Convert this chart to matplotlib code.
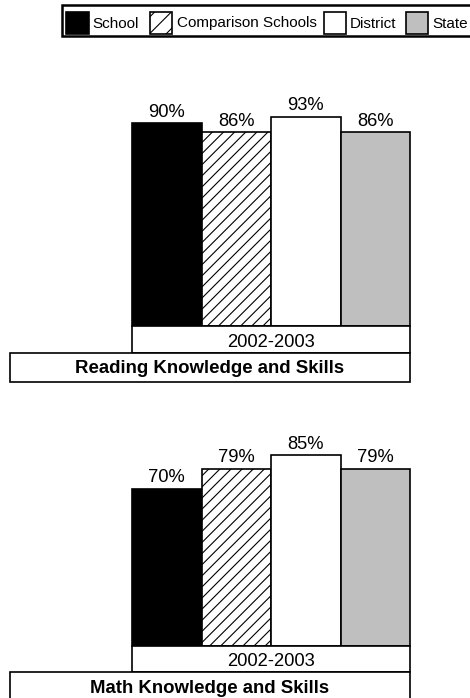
import matplotlib
matplotlib.use("Agg")
import matplotlib.pyplot as plt
import matplotlib.transforms as mtransforms
from matplotlib.patches import Rectangle

plt.rcParams['font.family'] = ['Liberation Sans', 'DejaVu Sans']
plt.rcParams['hatch.linewidth'] = 0.8

# data
groups = ["School", "Comparison Schools", "District", "State"]
reading = [90, 86, 93, 86]
math_vals = [70, 79, 85, 79]
year = "2002-2003"
titles = ["Reading Knowledge and Skills", "Math Knowledge and Skills"]

colors = ["black", "white", "white", "#bfbfbf"]
hatches = [None, "///", None, None]

W, H = 470, 698
fig = plt.figure(figsize=(W / 100, H / 100), dpi=100)
# pixel coords, y going down
px = mtransforms.Affine2D().scale(1 / W, -1 / H).translate(0, 1) + fig.transFigure


def box(x0, y0, x1, y1, lw=1.2):
    fig.patches.append(Rectangle((x0, y0), x1 - x0, y1 - y0, transform=px,
                                 facecolor="white", edgecolor="black", lw=lw))


def panel(vals, base, top, title):
    ax = fig.add_axes([132 / W, (H - base) / H, 278 / W, (base - top) / H])
    bars = ax.bar(range(len(vals)), vals, width=1, align="edge", color=colors,
                  edgecolor="black", linewidth=1.2, clip_on=False)
    for b, h in zip(bars, hatches):
        if h:
            b.set_hatch(h)
    for i, v in enumerate(vals):
        ax.annotate(f"{v}%", (i + 0.5, v), xytext=(0, 6.6), textcoords="offset pixels",
                    ha="center", va="baseline", fontsize=13.2)
    ax.set_xlim(0, len(vals))
    ax.set_ylim(0, 100)
    ax.axis("off")
    box(132, base, 410, base + 26.5)
    fig.text(271, base + 20.7, year, transform=px, ha="center", va="baseline", fontsize=13.2)
    box(10, base + 26.5, 410, base + 56)
    fig.text(210, base + 47, title, transform=px, ha="center", va="baseline",
             fontsize=13.4, fontweight="bold")


panel(reading, 326, 101, titles[0])
panel(math_vals, 645.7, 421.5, titles[1])

# legend
box(62, 5, 480, 36, lw=1.8)
patch_x = [66, 149.5, 323.5, 405.5]
text_x = [92.7, 176.7, 349.3, 432.7]
for g, c, h, xp, xt in zip(groups, colors, hatches, patch_x, text_x):
    r = Rectangle((xp, 11.5), 22.5, 22.5, transform=px, facecolor=c,
                  edgecolor="black", lw=1.2, hatch="//" if h else None)
    fig.patches.append(r)
    fig.text(xt, 27.5, g, transform=px, ha="left", va="baseline", fontsize=11)

fig.savefig("out.png", dpi=100)
